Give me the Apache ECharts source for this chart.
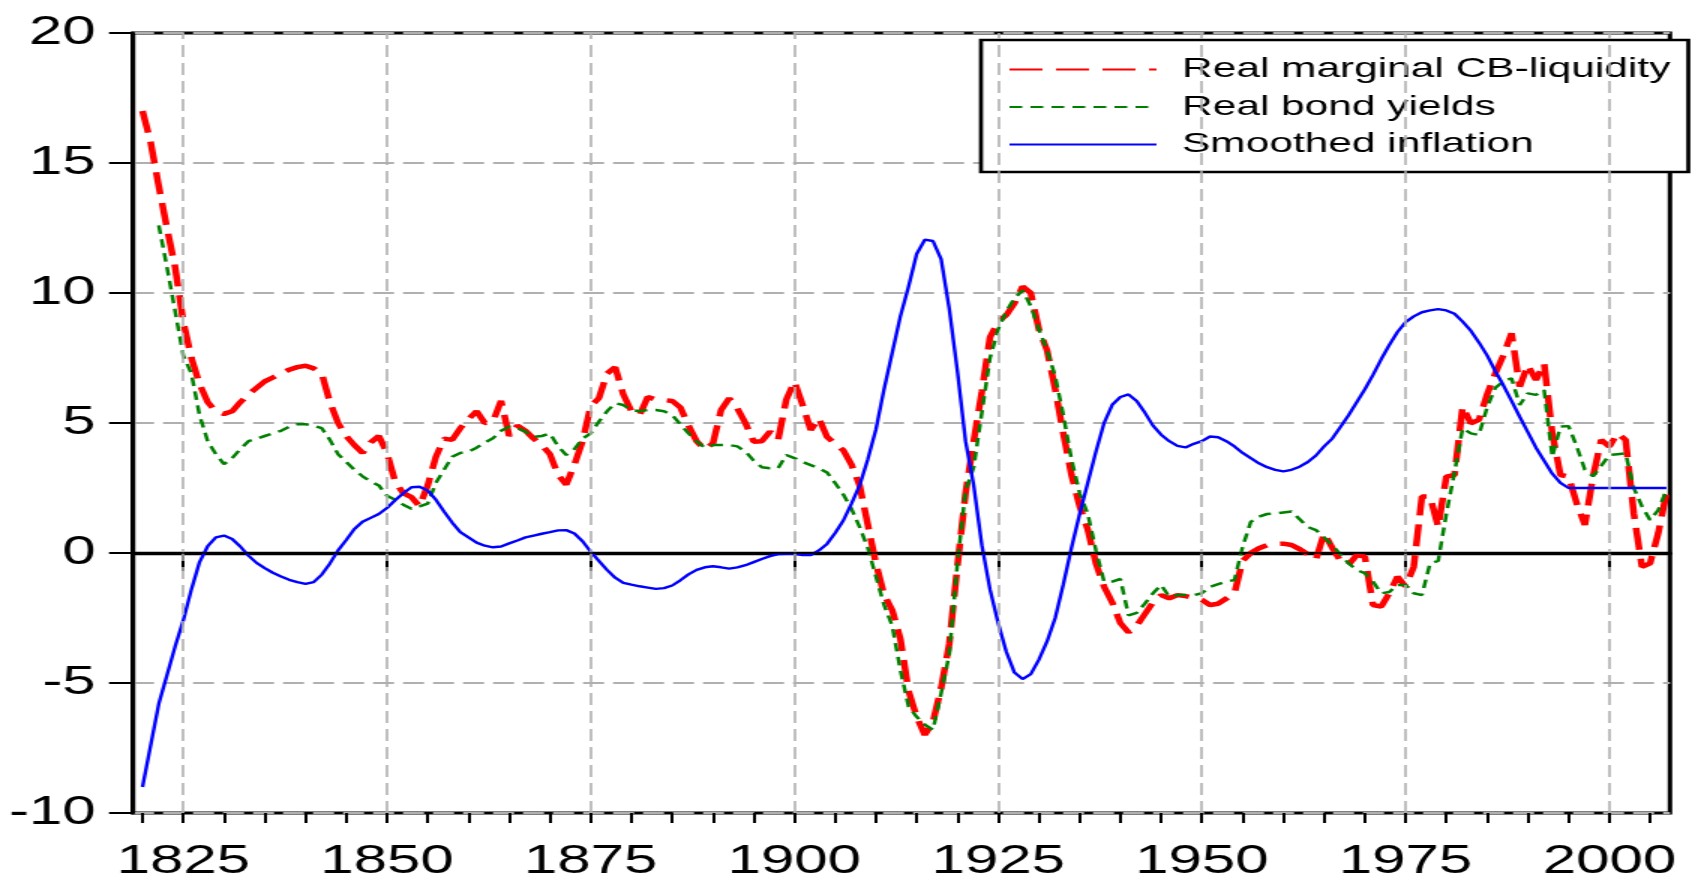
<!DOCTYPE html>
<html>
<head>
<meta charset="utf-8">
<script src="https://cdn.jsdelivr.net/npm/echarts@6/dist/echarts.min.js"></script>
<style>
html, body { margin: 0; padding: 0; background: #fff; overflow: hidden; }
/* the source picture is stretched sideways, so the chart is drawn narrow and widened */
#chart { width: 1128px; height: 882px; transform: scaleX(1.5); transform-origin: 0 0; }
</style>
</head>
<body>
<div id="chart"></div>
<script>
var firstYear = 1820;
var bondStart = 1822;

// Real marginal CB-liquidity, 1820-2007
var liquidity = [
  17.0, 15.8, 14.1, 12.5, 11.0, 8.9, 7.5, 6.5, 5.8, 5.45,
  5.35, 5.45, 5.8, 6.1, 6.35, 6.6, 6.75, 6.9, 7.05, 7.15,
  7.2, 7.1, 6.9, 5.8, 5.0, 4.5, 4.15, 3.85, 4.25, 4.5,
  3.85, 2.75, 2.3, 2.15, 1.8, 2.6, 3.7, 4.4, 4.35, 4.8,
  5.15, 5.45, 5.0, 5.05, 5.85, 4.5, 4.9, 4.7, 4.4, 4.15,
  3.8, 3.0, 2.63, 3.4, 4.3, 5.65, 5.95, 6.9, 7.15, 6.1,
  5.45, 5.3, 6.0, 5.9, 5.88, 5.85, 5.6, 4.9, 4.3, 3.98,
  4.22, 5.5, 5.95, 5.56, 4.99, 4.28, 4.3, 4.67, 4.35, 5.9,
  6.59, 5.7, 4.73, 5.18, 4.47, 4.2, 3.95, 3.4, 2.6, 1.1,
  -0.4, -1.6, -2.2, -3.3, -5.3, -6.3, -7.0, -6.5, -5.2, -3.5,
  -0.5, 2.3, 4.3, 6.2, 8.3, 8.9, 9.15, 9.6, 10.25, 10.0,
  8.6, 7.8, 6.3, 4.6, 3.0, 1.8, 0.9, -0.4, -1.3, -1.9,
  -2.7, -3.05, -2.8, -2.35, -1.9, -1.62, -1.74, -1.62, -1.66, -1.72,
  -1.8, -2.0, -1.95, -1.75, -1.55, -0.3, 0.0, 0.18, 0.3, 0.35,
  0.36, 0.31, 0.15, -0.05, -0.25, 0.76, 0.2, -0.3, -0.45, -0.08,
  -0.14, -2.0, -2.06, -1.55, -0.91, -1.29, -0.53, 2.17, 2.17, 1.01,
  2.94, 3.0, 5.63, 4.99, 5.12, 6.1, 6.9, 7.6, 8.45, 6.4,
  7.23, 6.65, 7.29, 4.6, 3.0, 2.94, 1.91, 1.08, 2.94, 4.35,
  4.09, 4.6, 4.35, 1.53, -0.53, -0.4, 0.76, 2.29
];

// Real bond yields, 1822-2007
var bondYields = [
  12.6, 11.0, 9.3, 7.6, 6.9, 5.3, 4.3, 3.8,
  3.42, 3.65, 4.0, 4.3, 4.4, 4.5, 4.6, 4.7, 4.85, 4.95,
  4.95, 4.9, 4.8, 4.35, 3.8, 3.5, 3.2, 2.95, 2.75, 2.6,
  2.2, 2.05, 1.86, 1.7, 1.79, 1.9, 2.7, 3.2, 3.7, 3.85,
  3.9, 4.05, 4.25, 4.41, 4.7, 4.86, 4.8, 4.67, 4.47, 4.5,
  4.6, 4.1, 3.77, 4.0, 4.4, 4.6, 5.05, 5.45, 5.76, 5.69,
  5.5, 5.45, 5.5, 5.5, 5.45, 5.31, 4.95, 4.6, 4.3, 4.05,
  4.15, 4.15, 4.15, 4.1, 3.9, 3.55, 3.3, 3.26, 3.26, 3.77,
  3.65, 3.5, 3.38, 3.26, 3.1, 2.69, 2.25, 1.7, 1.0, 0.2,
  -0.9, -2.0, -2.8, -4.5, -5.9, -6.3, -6.6, -6.8, -5.4, -3.9,
  -0.4, 2.4, 3.3, 5.4, 7.5, 8.6, 9.3, 9.8, 10.1, 9.5,
  8.6, 7.8, 6.8, 5.3, 3.6, 2.3, 1.5, 0.1, -1.1, -1.1,
  -1.0, -2.4, -2.3, -1.95, -1.55, -1.23, -1.68, -1.62, -1.62, -1.62,
  -1.55, -1.3, -1.2, -1.1, -1.04, 0.24, 1.2, 1.4, 1.5, 1.52,
  1.56, 1.6, 1.3, 1.0, 0.88, 0.6, 0.3, -0.05, -0.4, -0.65,
  -0.78, -1.1, -1.55, -1.5, -1.23, -1.23, -1.55, -1.62, -0.4, -0.3,
  1.5, 3.1, 4.8, 4.6, 4.54, 5.6, 6.35, 6.6, 6.72, 5.69,
  6.14, 6.08, 6.27, 3.7, 4.86, 4.88, 4.1, 3.2, 2.95, 3.35,
  3.77, 3.8, 3.83, 2.5, 1.8, 1.27, 1.65, 2.42
];

// Smoothed inflation, 1820-2007
var inflation = [
  -9.0, -7.4, -5.8, -4.7, -3.6, -2.6, -1.4, -0.35, 0.26, 0.6,
  0.67, 0.54, 0.25, -0.1, -0.38, -0.58, -0.76, -0.9, -1.03, -1.12,
  -1.19, -1.12, -0.83, -0.4, 0.1, 0.5, 0.92, 1.2, 1.35, 1.5,
  1.73, 2.03, 2.3, 2.53, 2.55, 2.4, 2.05, 1.6, 1.17, 0.8,
  0.6, 0.4, 0.28, 0.22, 0.25, 0.37, 0.48, 0.6, 0.67, 0.74,
  0.8, 0.87, 0.88, 0.75, 0.45, 0.05, -0.3, -0.65, -0.95, -1.15,
  -1.22, -1.28, -1.33, -1.38, -1.35, -1.25, -1.05, -0.82, -0.65, -0.55,
  -0.51, -0.55, -0.6, -0.55, -0.47, -0.35, -0.23, -0.12, -0.04, -0.03,
  -0.03, -0.08, -0.08, 0.1, 0.35, 0.77, 1.25, 1.9, 2.6, 3.6,
  4.75, 6.3, 7.7, 9.1, 10.24, 11.5, 12.05, 12.0, 11.3, 9.4,
  7.0, 4.3, 2.6, 0.3, -1.4, -2.69, -3.8, -4.6, -4.85, -4.66,
  -4.1, -3.4, -2.5, -1.2, 0.2, 1.5, 2.7, 3.9, 5.0, 5.7,
  6.0, 6.1, 5.85, 5.4, 4.9, 4.55, 4.3, 4.12, 4.06, 4.2,
  4.3, 4.48, 4.45, 4.3, 4.1, 3.85, 3.65, 3.45, 3.3, 3.2,
  3.14, 3.2, 3.32, 3.5, 3.75, 4.1, 4.4, 4.85, 5.3, 5.8,
  6.3, 6.85, 7.45, 8.0, 8.5, 8.88, 9.1, 9.26, 9.33, 9.38,
  9.33, 9.2, 8.9, 8.55, 8.1, 7.6, 7.0, 6.45, 5.85, 5.24,
  4.65, 4.05, 3.55, 3.05, 2.7, 2.5, 2.5, 2.5, 2.5, 2.5,
  2.5, 2.5, 2.5, 2.5, 2.5, 2.5, 2.5, 2.5
];

var labelYears = [1825, 1850, 1875, 1900, 1925, 1950, 1975, 2000];
var minorYears = [1820, 1825, 1830, 1835, 1840, 1845, 1850, 1855, 1860, 1865,
  1870, 1875, 1880, 1885, 1890, 1895, 1900, 1905, 1910, 1915, 1920, 1925,
  1930, 1935, 1940, 1945, 1950, 1955, 1960, 1965, 1970, 1975, 1980, 1985,
  1990, 1995, 2000, 2005];

function pairs(start, values) {
  return values.map(function (v, i) { return [start + i, v]; });
}

var myChart = echarts.init(document.getElementById('chart'));

var fontFam = '"Liberation Sans", Arial, sans-serif';
var gridGray = '#b0b0b0';

var option = {
  animation: false,
  backgroundColor: '#fff',
  grid: {
    left: 88.7,
    right: 14.7,
    top: 33,
    bottom: 69,
    show: true,
    borderColor: '#000',
    borderWidth: 3
  },
  legend: {
    orient: 'vertical',
    left: 654,
    top: 40,
    padding: [15, 12, 13, 18],
    itemWidth: 98,
    itemHeight: 14,
    itemGap: 8.5,
    backgroundColor: '#fff',
    borderColor: '#000',
    borderWidth: 2.7,
    borderRadius: 0,
    itemStyle: { opacity: 0 },
    textStyle: {
      fontSize: 28.3,
      lineHeight: 29,
      fontFamily: fontFam,
      color: '#000',
      padding: [0, 0, 0, 12]
    },
    data: ['Real marginal CB-liquidity', 'Real bond yields', 'Smoothed inflation']
  },
  xAxis: [
    {
      type: 'value',
      min: 1818.84,
      max: 2007.44,
      position: 'bottom',
      axisLine: { show: true, lineStyle: { color: '#000', width: 3.3 } },
      axisTick: { show: true, customValues: labelYears, length: 18, lineStyle: { color: '#000', width: 2 } },
      axisLabel: {
        customValues: labelYears,
        formatter: function (v) { return String(v); },
        fontSize: 40,
        lineHeight: 40,
        margin: 29,
        color: '#000',
        fontFamily: fontFam
      },
      splitLine: { show: false }
    },
    {
      type: 'value',
      min: 1818.84,
      max: 2007.44,
      position: 'bottom',
      axisLine: { show: false },
      axisTick: { show: true, customValues: minorYears, length: 10, lineStyle: { color: '#000', width: 2 } },
      axisLabel: { show: false },
      splitLine: { show: false }
    }
  ],
  yAxis: {
    type: 'value',
    min: -10,
    max: 20,
    interval: 5,
    axisLine: { show: true, lineStyle: { color: '#000', width: 3 } },
    axisTick: { show: true, length: 16, lineStyle: { color: '#000', width: 2 } },
    axisLabel: {
      fontSize: 40,
      lineHeight: 40,
      margin: 25,
      padding: [0, 0, 12, 0],
      color: '#000',
      fontFamily: fontFam
    },
    splitLine: { show: true, lineStyle: { color: gridGray, width: 2, type: [14, 6] } }
  },
  series: [
    {
      name: 'grid',
      type: 'line',
      data: [],
      z: 1,
      silent: true,
      markLine: {
        silent: true,
        symbol: ['none', 'none'],
        label: { show: false },
        animation: false,
        data: labelYears.map(function (y) {
          return { xAxis: y, lineStyle: { color: gridGray, width: 1.6, type: [12, 6] } };
        }).concat([{ yAxis: 0, lineStyle: { color: '#000', width: 1.5, type: 'solid' } }])
      }
    },
    {
      name: 'Real marginal CB-liquidity',
      type: 'line',
      data: pairs(firstYear, liquidity),
      symbol: 'none',
      z: 2,
      lineStyle: { color: '#ff0000', width: 4.5, type: [22, 9] },
      itemStyle: { color: '#ff0000' }
    },
    {
      name: 'Real bond yields',
      type: 'line',
      data: pairs(bondStart, bondYields),
      symbol: 'none',
      z: 3,
      lineStyle: { color: '#008000', width: 2.5, type: [8.5, 5.5] },
      itemStyle: { color: '#008000' }
    },
    {
      name: 'Smoothed inflation',
      type: 'line',
      data: pairs(firstYear, inflation),
      symbol: 'none',
      z: 4,
      lineStyle: { color: '#0000ff', width: 2.4, type: 'solid' },
      itemStyle: { color: '#0000ff' }
    }
  ]
};

myChart.setOption(option);
</script>
</body>
</html>
